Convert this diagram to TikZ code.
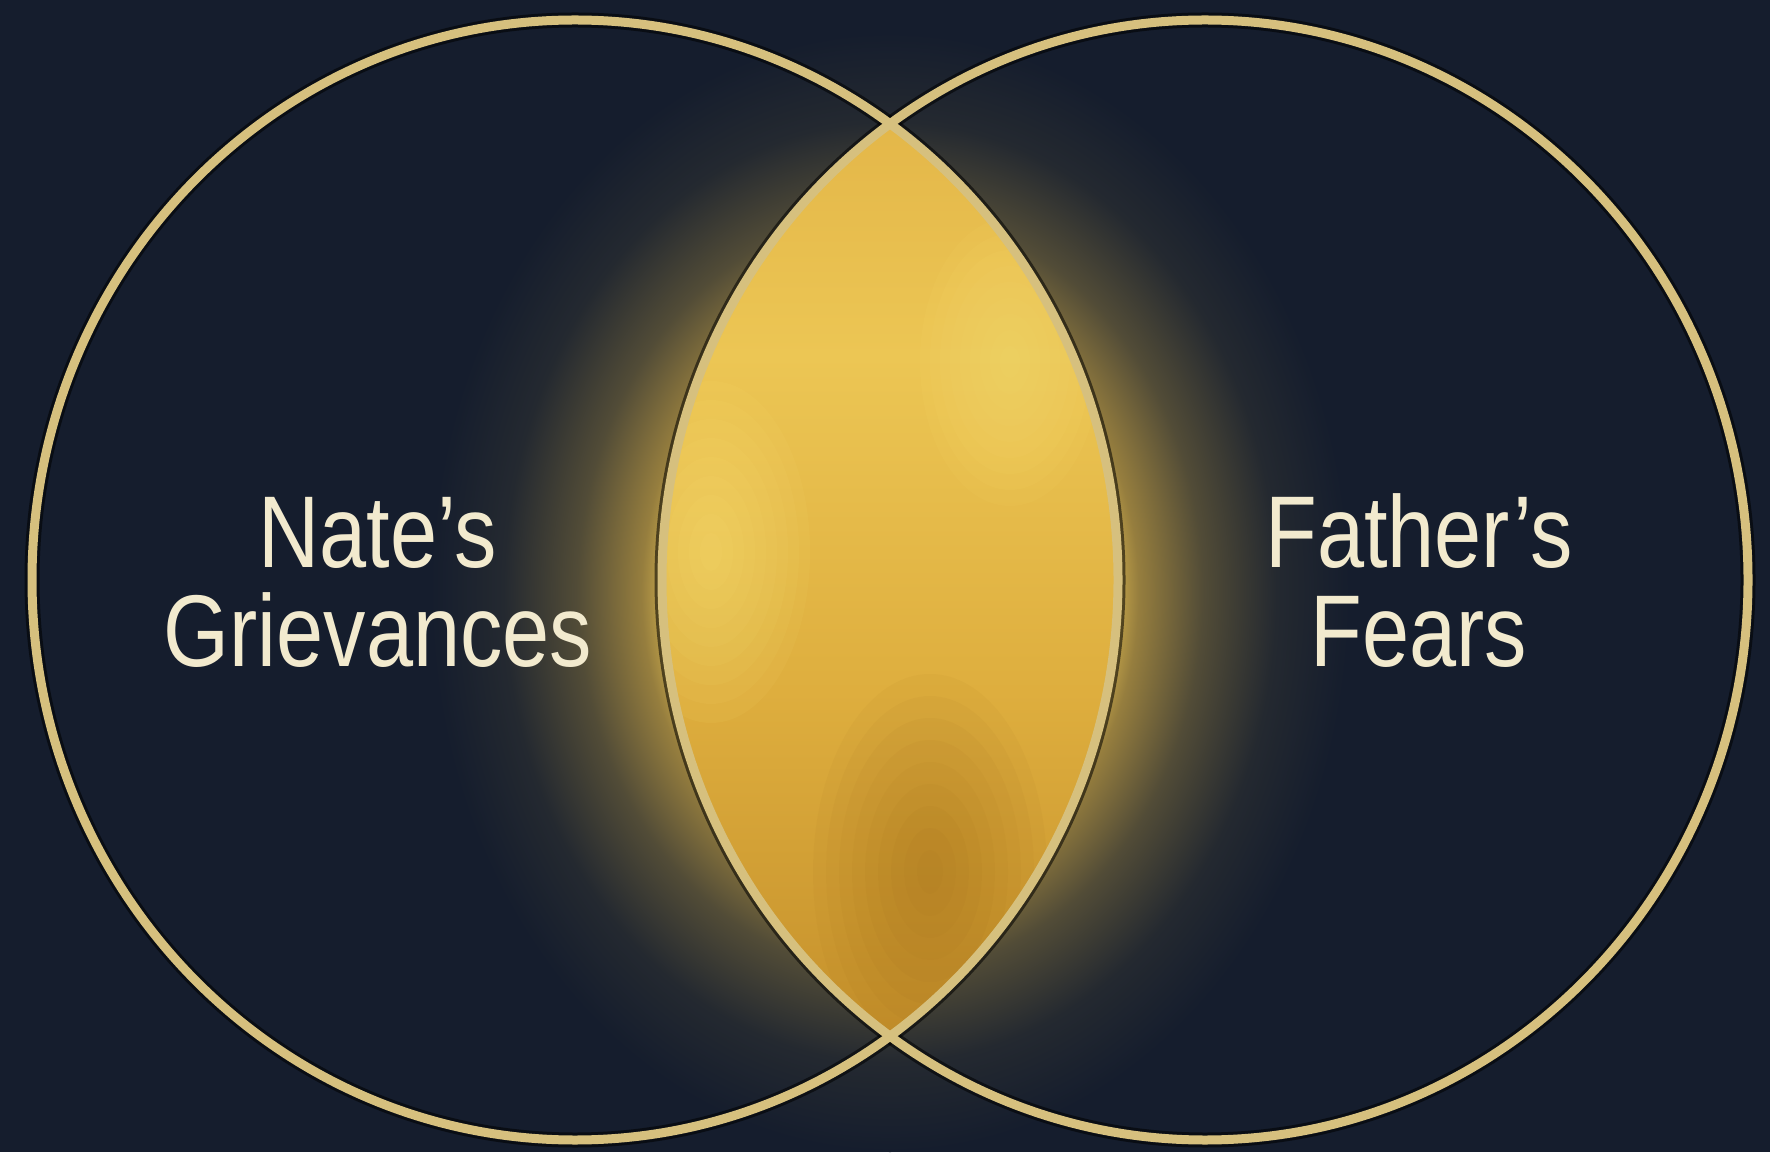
\documentclass[tikz,border=0pt]{standalone}
\usepackage{fontspec}
\newfontfamily\vennfont[FakeStretch=0.83]{Liberation Sans}
\definecolor{bg}{RGB}{21,29,45}
\definecolor{ring}{RGB}{214,192,126}
\definecolor{cream}{RGB}{242,234,206}
\definecolor{gl1}{RGB}{205,172,76}
\definecolor{gl2}{RGB}{150,126,62}
\definecolor{gl3}{RGB}{82,76,55}
\definecolor{gl4}{RGB}{36,41,48}
\definecolor{gold0}{RGB}{224,176,68}
\definecolor{gold1}{RGB}{236,198,84}
\definecolor{gold2}{RGB}{222,174,62}
\definecolor{gold3}{RGB}{190,136,38}
\definecolor{hilite}{RGB}{252,230,122}
\definecolor{umber}{RGB}{150,98,22}
\pgfdeclareradialshading{lensglow}{\pgfpoint{0bp}{0bp}}{color(0bp)=(gl1); color(12bp)=(gl1); color(13.5bp)=(gl2); color(17bp)=(gl3); color(21bp)=(gl4); color(25bp)=(bg); color(50bp)=(bg)}
\pgfdeclareverticalshading{lensgold}{100bp}{color(0bp)=(gold3); color(25bp)=(gold3); color(45bp)=(gold2); color(60bp)=(gold1); color(75bp)=(gold0); color(100bp)=(gold0)}

\begin{document}
\begin{tikzpicture}[x=0.5pt,y=0.5pt,
    vtext/.style={anchor=base,text=cream,font=\vennfont\fontsize{51}{51}\selectfont},
    ringline/.style={ring,line width=4.5pt},
    ringshade/.style={black,line width=7.5pt,opacity=0.55}]
    \fill[bg] (0,0) rectangle (1770,1152);
    \useasboundingbox (0,0) rectangle (1770,1152);
    \coordinate (lc) at (575,572);
    \coordinate (rc) at (1205,572);
    % glow behind the overlap
    \shade[shading=lensglow] (890,560) ellipse [x radius=460, y radius=560];
    \draw[ringshade] (lc) ellipse [x radius=543, y radius=560];
    \draw[ringshade] (rc) ellipse [x radius=543, y radius=560];
    % the overlap
    \begin{scope}
        \clip (lc) ellipse [x radius=543, y radius=560];
        \clip (rc) ellipse [x radius=543, y radius=560];
        \shade[shading=lensgold] (rc) ellipse [x radius=543, y radius=560];
        \foreach \k in {1,...,9} {
            \fill[hilite,fill opacity=0.07] (711,600) ellipse [x radius=11*\k, y radius=19*\k];
            \fill[hilite,fill opacity=0.06] (1010,790) ellipse [x radius=10*\k, y radius=16*\k];
            \fill[umber,fill opacity=0.05] (930,280) ellipse [x radius=13*\k, y radius=22*\k];
        }
    \end{scope}
    % rings
    \draw[ringline] (lc) ellipse [x radius=543, y radius=560];
    \draw[ringline] (rc) ellipse [x radius=543, y radius=560];
    % labels
    \node[vtext] (nate) at (378,584) {Nate’s};
    \node[vtext] (griev) at (378,486) {Grievances};
    \node[vtext] (father) at (1419,584) {Father’s};
    \node[vtext] (fears) at (1419,486) {Fears};
\end{tikzpicture}
\end{document}
